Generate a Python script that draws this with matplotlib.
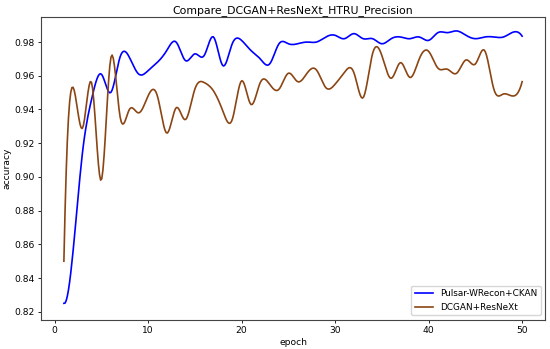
import numpy as np
import matplotlib
matplotlib.use("Agg")
import matplotlib.pyplot as plt

epochs = list(range(1, 51))
pulsar = [0.825, 0.857, 0.915, 0.947, 0.961, 0.950, 0.971, 0.971, 0.961, 0.963,
          0.968, 0.975, 0.980, 0.969, 0.973, 0.972, 0.983, 0.966, 0.979, 0.981,
          0.975, 0.970, 0.967, 0.979, 0.979, 0.979, 0.980, 0.980, 0.983, 0.984,
          0.982, 0.985, 0.982, 0.982, 0.979, 0.982, 0.983, 0.982, 0.983, 0.981,
          0.9856, 0.9856, 0.9866, 0.984, 0.982, 0.983, 0.983, 0.983, 0.9858, 0.9835]
dcgan = [0.850, 0.953, 0.929, 0.955, 0.898, 0.970, 0.936, 0.940, 0.938, 0.948,
         0.948, 0.926, 0.941, 0.934, 0.952, 0.956, 0.951, 0.939, 0.934, 0.957,
         0.943, 0.956, 0.955, 0.952, 0.9615, 0.9565, 0.9615, 0.9635, 0.953, 0.955,
         0.962, 0.962, 0.947, 0.973, 0.972, 0.9585, 0.9678, 0.959, 0.970, 0.9745,
         0.9645, 0.9639, 0.9615, 0.9694, 0.967, 0.9749, 0.9516, 0.9492, 0.948, 0.9565]

series_names = ["Pulsar-WRecon+CKAN", "DCGAN+ResNeXt"]
title = "Compare_DCGAN+ResNeXt_HTRU_Precision"


def smooth(x, y, n=400):
    # not-a-knot cubic spline through the given points (rendering only)
    x = np.asarray(x, float)
    y = np.asarray(y, float)
    m = len(x)
    h = np.diff(x)
    A = np.zeros((m, m))
    b = np.zeros(m)
    A[0, 0], A[0, 1], A[0, 2] = h[1], -(h[0] + h[1]), h[0]
    A[-1, -3], A[-1, -2], A[-1, -1] = h[-1], -(h[-2] + h[-1]), h[-2]
    for i in range(1, m - 1):
        A[i, i - 1] = h[i - 1]
        A[i, i] = 2 * (h[i - 1] + h[i])
        A[i, i + 1] = h[i]
        b[i] = 3 * ((y[i + 1] - y[i]) / h[i] - (y[i] - y[i - 1]) / h[i - 1])
    c = np.linalg.solve(A, b)
    bb = (np.diff(y) / h) - h * (2 * c[:-1] + c[1:]) / 3
    d = np.diff(c) / (3 * h)
    xs = np.linspace(x[0], x[-1], n)
    idx = np.clip(np.searchsorted(x, xs) - 1, 0, m - 2)
    dx = xs - x[idx]
    ys = y[idx] + bb[idx] * dx + c[idx] * dx ** 2 + d[idx] * dx ** 3
    return xs, ys


fig = plt.figure(figsize=(5.5, 3.49), dpi=100)
ax = fig.add_axes([0.0745, 0.084, 0.9165, 0.866])

xs, ys = smooth(epochs, pulsar)
ax.plot(xs, ys, color="blue", lw=1.2, label=series_names[0])
xs, ys = smooth(epochs, dcgan)
ax.plot(xs, ys, color="saddlebrown", lw=1.2, label=series_names[1])

ax.set_xlim(-1.45, 52.45)
ax.set_ylim(0.8153, 0.9946)
ax.set_xticks([0, 10, 20, 30, 40, 50])
ax.set_yticks([0.82, 0.84, 0.86, 0.88, 0.90, 0.92, 0.94, 0.96, 0.98])
ax.tick_params(labelsize=6.6, length=2.5, width=0.6, pad=2)
for s in ax.spines.values():
    s.set_linewidth(0.8)
    s.set_color("#444444")
ax.set_title(title, fontsize=7.8, pad=3)
ax.set_xlabel("epoch", fontsize=6.6, labelpad=2)
ax.set_ylabel("accuracy", fontsize=6.6, labelpad=2)
ax.legend(loc="lower right", fontsize=6.4, handlelength=2.0, borderaxespad=0.5)

fig.savefig("out.png", dpi=100)
